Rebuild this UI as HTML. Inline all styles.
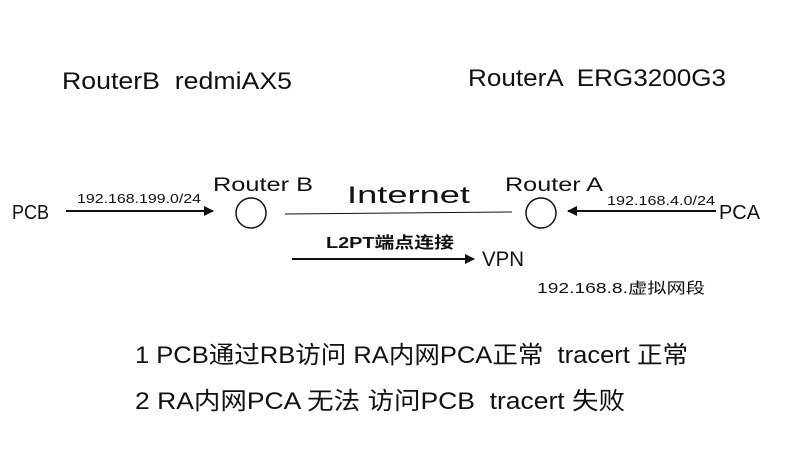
<!DOCTYPE html>
<html><head><meta charset="utf-8"><style>
html,body{margin:0;padding:0;background:#fff;width:785px;height:471px;overflow:hidden}
svg{display:block}
text{font-family:"Liberation Sans","Noto Sans CJK SC",sans-serif;fill:#111}
</style></head><body>
<svg width="785" height="471" viewBox="0 0 785 471">
<defs>
<marker id="ah" markerWidth="10" markerHeight="10" refX="9" refY="5" orient="auto" markerUnits="userSpaceOnUse">
<path d="M0,0 L10,5 L0,10 Z" fill="#111"/></marker>
</defs>
<text x="62" y="89" font-size="24" textLength="230" lengthAdjust="spacingAndGlyphs" xml:space="preserve">RouterB  redmiAX5</text>
<text x="468" y="86" font-size="24" textLength="258" lengthAdjust="spacingAndGlyphs" xml:space="preserve">RouterA  ERG3200G3</text>

<text x="12" y="219" font-size="20" textLength="37" lengthAdjust="spacingAndGlyphs">PCB</text>
<line x1="66" y1="211" x2="213" y2="211" stroke="#111" stroke-width="2" marker-end="url(#ah)"/>
<text x="77" y="203" font-size="13" textLength="124" lengthAdjust="spacingAndGlyphs">192.168.199.0/24</text>

<text x="213" y="191" font-size="19" textLength="100" lengthAdjust="spacingAndGlyphs">Router B</text>
<circle cx="251" cy="213" r="15" fill="none" stroke="#111" stroke-width="1.5"/>
<line x1="285" y1="214" x2="512" y2="212" stroke="#111" stroke-width="1"/>
<text x="347" y="203" font-size="24" textLength="123" lengthAdjust="spacingAndGlyphs">Internet</text>

<text x="505" y="191" font-size="19" textLength="98" lengthAdjust="spacingAndGlyphs">Router A</text>
<circle cx="541" cy="213" r="15" fill="none" stroke="#111" stroke-width="1.5"/>
<line x1="716" y1="211" x2="568" y2="211" stroke="#111" stroke-width="2" marker-end="url(#ah)"/>
<text x="607" y="205" font-size="13" textLength="108" lengthAdjust="spacingAndGlyphs">192.168.4.0/24</text>
<text x="719" y="219" font-size="20" textLength="41" lengthAdjust="spacingAndGlyphs">PCA</text>

<text x="326" y="248" font-size="16" font-weight="bold" textLength="128" lengthAdjust="spacingAndGlyphs">L2PT端点连接</text>
<line x1="292" y1="259" x2="474" y2="259" stroke="#111" stroke-width="2" marker-end="url(#ah)"/>
<text x="482" y="266" font-size="21" textLength="42" lengthAdjust="spacingAndGlyphs">VPN</text>
<text x="537" y="293" font-size="15" textLength="168" lengthAdjust="spacingAndGlyphs">192.168.8.虚拟网段</text>

<text x="135" y="363" font-size="24" textLength="553" lengthAdjust="spacingAndGlyphs" xml:space="preserve">1 PCB通过RB访问 RA内网PCA正常  tracert 正常</text>
<text x="135" y="409" font-size="24" textLength="490" lengthAdjust="spacingAndGlyphs" xml:space="preserve">2 RA内网PCA 无法 访问PCB  tracert 失败</text>
</svg>
</body></html>
